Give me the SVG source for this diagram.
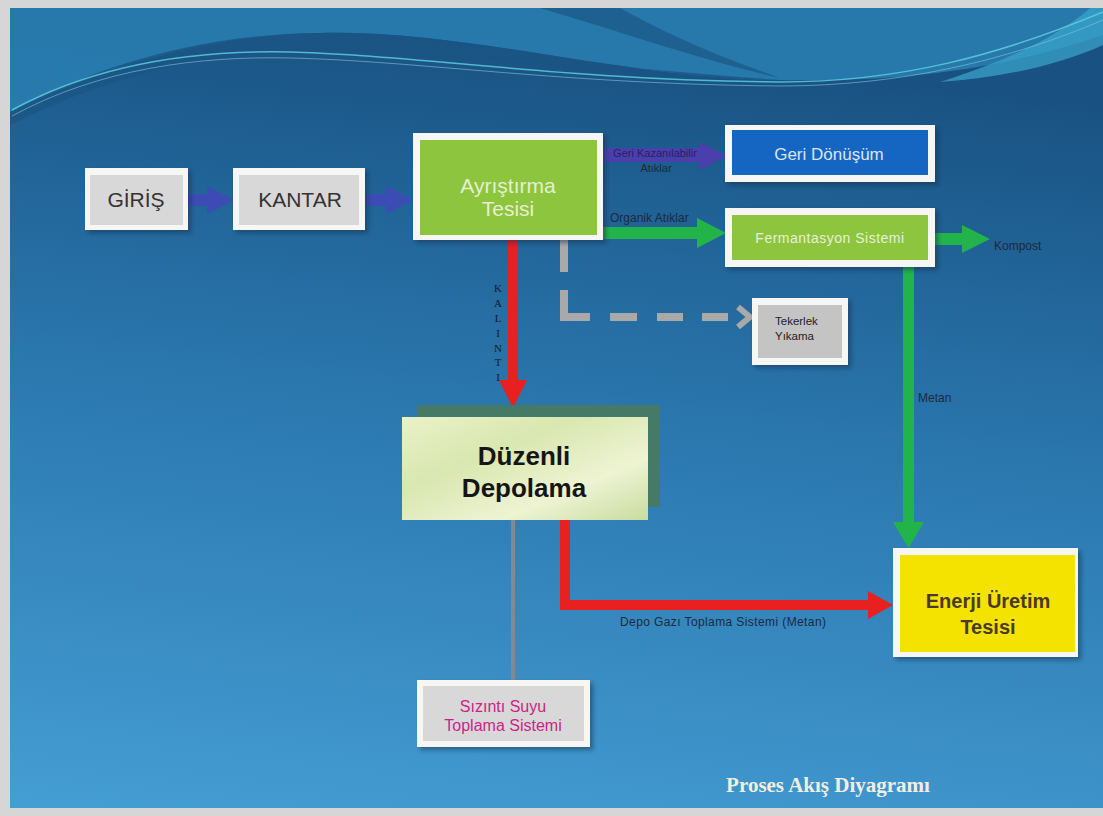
<svg xmlns="http://www.w3.org/2000/svg" width="1103" height="816" viewBox="0 0 1103 816">
<defs>
<linearGradient id="bg" x1="0.2" y1="0" x2="0.05" y2="1">
<stop offset="0" stop-color="#195282"/>
<stop offset="0.45" stop-color="#2a77ae"/>
<stop offset="1" stop-color="#449dd3"/>
</linearGradient>
<linearGradient id="dz" x1="0" y1="0" x2="1" y2="1">
<stop offset="0" stop-color="#eaf1c8"/>
<stop offset="0.35" stop-color="#d9e7b0"/>
<stop offset="0.7" stop-color="#eef3d2"/>
<stop offset="1" stop-color="#c8dca0"/>
</linearGradient>
<filter id="sh" x="-10%" y="-10%" width="130%" height="130%">
<feDropShadow dx="3" dy="3" stdDeviation="2" flood-color="#0a2a45" flood-opacity="0.5"/>
</filter>
</defs>
<style>
.outer{fill:#f6f6f4;filter:url(#sh)}
.gray{fill:#d8d8d8}
.green{fill:#8dc53f}
.t{font-family:"Liberation Sans",Arial,sans-serif}
.lbl{font-family:"Liberation Sans",Arial,sans-serif;fill:#1c2a3c}
.blue{fill:#3d4cb5}
.grn{fill:#22b44a}
.red{fill:#e82020}
</style>
<!-- frame & background -->
<rect x="0" y="0" width="1103" height="816" fill="#d6d6d6"/>
<rect x="10" y="8" width="1093" height="800" fill="url(#bg)"/>
<g id="wave">
<path d="M10,8 H1103 V35 C1000,70 900,82 780,80 C620,78 470,30 320,33 C190,36 90,75 10,112 Z" fill="#2a82b5" opacity="0.8"/>
<path d="M10,112 C90,70 190,34 320,33 C470,30 620,78 780,80 C640,70 480,52 360,50 C200,48 100,80 10,125 Z" fill="#1a5584" opacity="0.8"/>
<path d="M540,8 C600,25 700,60 780,78 C700,50 650,25 620,8 Z" fill="#1b5585" opacity="0.7"/>
<path d="M920,8 H1103 V45 C1060,65 1000,78 940,82 C1010,60 1060,35 1090,8 Z" fill="#3aa6cc" opacity="0.7"/>
<path d="M12,110 C100,62 200,50 290,52 C420,55 560,80 780,82 C900,82 1000,55 1103,12" fill="none" stroke="#5fd3e0" stroke-width="1.5" opacity="0.8"/>
<path d="M12,116 C100,68 200,56 290,58 C420,61 560,84 780,86 C900,86 1010,60 1103,20" fill="none" stroke="#7fc8dc" stroke-width="1" opacity="0.6"/>
</g>
<g id="connectors">
<polygon class="blue" points="188,194 207,194 207,186 234,200 207,214 207,206 188,206"/>
<polygon class="blue" points="365,194 386,194 386,186 413,200 386,214 386,206 365,206"/>
<polygon fill="#4b3fae" points="603,148 700,148 700,142 726,156 700,170 700,162 603,162"/>
<polygon class="grn" points="603,227 697,227 697,218 726,233 697,248 697,239 603,239"/>
<polygon class="grn" points="935,233 962,233 962,225 990,239 962,253 962,245 935,245"/>
<polygon class="grn" points="903,266 914,266 914,522 924,522 908.5,548 893,522 903,522"/>
<polygon class="red" points="508,240 518,240 518,380 527,380 513,408 499,380 508,380"/>
<polygon class="red" points="560,519 570,519 570,600 868,600 868,591 893,605 868,619 868,610 560,610"/>
<rect x="511" y="519" width="4" height="161" fill="#7f8a94"/>
<g fill="none" stroke="#a9a9a9" stroke-width="8">
<line x1="564" y1="240" x2="564" y2="272"/>
<polyline points="564,290 564,317 590,317"/>
<line x1="610" y1="317" x2="637" y2="317"/>
<line x1="657" y1="317" x2="683" y2="317"/>
<line x1="702" y1="317" x2="728" y2="317"/>
<polyline points="738,307 750,317 738,327" stroke-width="6"/>
</g>
<g class="lbl">
<text x="655" y="157" font-size="11" text-anchor="middle" fill="#2a2060">Geri Kazanılabilir</text>
<text x="656" y="172" font-size="11" text-anchor="middle">Atıklar</text>
<text x="610" y="222" font-size="12">Organik Atıklar</text>
<text x="994" y="250" font-size="12">Kompost</text>
<text x="918" y="402" font-size="12">Metan</text>
<text x="620" y="626" font-size="12" letter-spacing="0.4">Depo Gazı Toplama Sistemi (Metan)</text>
<g font-family="'Liberation Serif',serif" font-size="11" text-anchor="middle" fill="#1a1a1a">
<text x="498" y="292">K</text>
<text x="498" y="307">A</text>
<text x="498" y="322">L</text>
<text x="498" y="337">I</text>
<text x="498" y="352">N</text>
<text x="498" y="366">T</text>
<text x="498" y="381">I</text>
</g>
</g>
</g>
<g id="giris">
<rect class="outer" x="85" y="168" width="103" height="62"/>
<rect class="gray" x="90" y="175" width="93" height="50"/>
<text class="t" x="136" y="207" font-size="21" text-anchor="middle" fill="#333">GİRİŞ</text>
</g>
<g id="kantar">
<rect class="outer" x="233" y="168" width="132" height="62"/>
<rect class="gray" x="239" y="175" width="120" height="50"/>
<text class="t" x="300" y="207" font-size="21" text-anchor="middle" fill="#333">KANTAR</text>
</g>
<g id="ayristirma">
<rect class="outer" x="413" y="133" width="190" height="107"/>
<rect class="green" x="420" y="140" width="177" height="95"/>
<text class="t" x="508" y="193" font-size="21" text-anchor="middle" fill="#e6efcf">Ayrıştırma</text>
<text class="t" x="508" y="216" font-size="21" text-anchor="middle" fill="#e6efcf">Tesisi</text>
</g>
<g id="geri-donusum">
<rect class="outer" x="725" y="125" width="210" height="57"/>
<rect x="732" y="130" width="196" height="45" fill="#1565c2"/>
<text class="t" x="829" y="160" font-size="17" text-anchor="middle" fill="#dbe6f4">Geri Dönüşüm</text>
</g>
<g id="fermantasyon">
<rect class="outer" x="725" y="208" width="210" height="59"/>
<rect class="green" x="732" y="215" width="196" height="45"/>
<text class="t" x="830" y="243" font-size="14" letter-spacing="0.5" text-anchor="middle" fill="#e8f0d8">Fermantasyon Sistemi</text>
</g>
<g id="tekerlek">
<rect class="outer" x="752" y="298" width="96" height="67"/>
<rect x="758" y="305" width="84" height="53" fill="#c4c4c4"/>
<text class="t" x="775" y="325" font-size="11.5" fill="#222">Tekerlek</text>
<text class="t" x="775" y="340" font-size="11.5" fill="#222">Yıkama</text>
</g>
<g id="duzenli">
<rect x="417" y="405" width="243" height="102" fill="#457a66"/>
<rect x="402" y="417" width="246" height="103" fill="url(#dz)"/>
<text class="t" x="524" y="465" font-size="26" font-weight="bold" text-anchor="middle" fill="#151515">Düzenli</text>
<text class="t" x="524" y="497" font-size="26" font-weight="bold" text-anchor="middle" fill="#151515">Depolama</text>
</g>
<g id="enerji">
<rect class="outer" x="893" y="548" width="185" height="109"/>
<rect x="900" y="555" width="175" height="97" fill="#f4e300"/>
<text class="t" x="988" y="608" font-size="20" font-weight="bold" text-anchor="middle" fill="#4a3a28">Enerji Üretim</text>
<text class="t" x="988" y="634" font-size="20" font-weight="bold" text-anchor="middle" fill="#4a3a28">Tesisi</text>
</g>
<g id="sizinti">
<rect class="outer" x="417" y="680" width="173" height="67"/>
<rect class="gray" x="423" y="686" width="161" height="55"/>
<text class="t" x="503" y="712" font-size="16" text-anchor="middle" fill="#cc1f8a">Sızıntı Suyu</text>
<text class="t" x="503" y="731" font-size="16" text-anchor="middle" fill="#cc1f8a">Toplama Sistemi</text>
</g>
<text x="828" y="792" font-family="'Liberation Serif',serif" font-size="21" font-weight="bold" text-anchor="middle" fill="#f2eee2">Proses Akış Diyagramı</text>
</svg>
